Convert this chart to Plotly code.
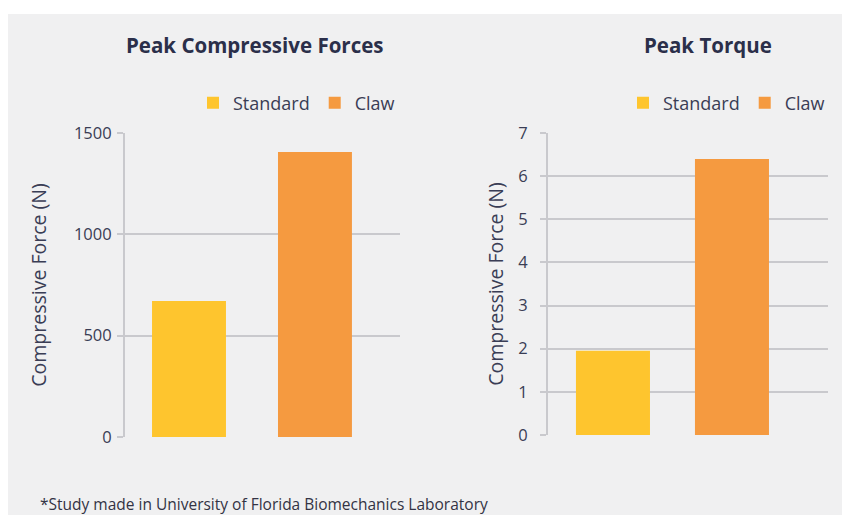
import plotly.graph_objects as go

categories = ["Standard", "Claw"]
force_values = [671, 1406]
torque_values = [1.95, 6.4]
force_ticks = [0, 500, 1000, 1500]
torque_ticks = [0, 1, 2, 3, 4, 5, 6, 7]
colors = {"Standard": "#fec52e", "Claw": "#f59a40"}

W, H = 850, 515
OX, OY = 8, 8  # page body margin offset
def px(x):
    return (x - OX) / W
def py(y):
    return 1 - (y - OY) / H

TXT = "#3a3d55"
GRID = "#c9c9cd"
FONT = "Open Sans"

fig = go.Figure()

for i, cat in enumerate(categories):
    fig.add_trace(go.Bar(
        x=[i], y=[force_values[i]], name=cat, marker_color=colors[cat],
        marker_line_width=0, width=0.587, xaxis="x", yaxis="y",
        legend="legend", showlegend=True, hoverinfo="skip"))
for i, cat in enumerate(categories):
    fig.add_trace(go.Bar(
        x=[i], y=[torque_values[i]], name=cat, marker_color=colors[cat],
        marker_line_width=0, width=0.622, xaxis="x2", yaxis="y2",
        legend="legend2", showlegend=True, hoverinfo="skip"))

def yaxis_common(standoff, title_standoff):
    return dict(
        showgrid=True, gridcolor=GRID, gridwidth=2,
        showline=True, linecolor=GRID, linewidth=2,
        ticks="outside", ticklen=6, tickcolor=GRID, tickwidth=2,
        ticklabelstandoff=standoff,
        tickfont=dict(family=FONT, size=16.5, color=TXT),
        title=dict(text="Compressive Force (N)", standoff=title_standoff,
                   font=dict(family=FONT, size=19.5, color=TXT)),
        zeroline=False, fixedrange=True,
    )
xaxis_common = dict(showticklabels=False, showgrid=False, zeroline=False,
                    showline=False, ticks="", fixedrange=True)

legend_common = dict(orientation="h", xanchor="left", yanchor="middle",
                     bgcolor="rgba(0,0,0,0)", itemwidth=30, traceorder="normal",
                     font=dict(family=FONT, size=18, color=TXT), itemclick=False)

fig.update_layout(
    width=W, height=H,
    margin=dict(l=0, r=0, t=0, b=0, autoexpand=False),
    paper_bgcolor="white",
    plot_bgcolor="rgba(0,0,0,0)",
    barmode="overlay",
    xaxis=dict(domain=[px(125), px(400)], range=[-0.508, 1.675], anchor="y", **xaxis_common),
    yaxis=dict(domain=[py(437), py(133)], range=[0, 1500], tickvals=force_ticks,
               anchor="x", **yaxis_common(2, 22)),
    xaxis2=dict(domain=[px(548), px(828)], range=[-0.546, 1.807], anchor="y2", **xaxis_common),
    yaxis2=dict(domain=[py(435), py(133)], range=[0, 7], tickvals=torque_ticks,
                anchor="x2", **yaxis_common(9, 9)),
    legend=dict(x=px(193), y=py(103), **legend_common),
    legend2=dict(x=px(623), y=py(103), **legend_common),
    shapes=[dict(type="rect", xref="paper", yref="paper", x0=0, x1=1.05, y0=-0.05, y1=py(14),
                 fillcolor="#f0f0f1", line_width=0, layer="below")],
    annotations=[
        dict(text="<b>Peak Compressive Forces</b>", x=px(255), y=py(45), xref="paper", yref="paper",
             showarrow=False, font=dict(family=FONT, size=20.5, color="#2b2f4a"), xanchor="center", yanchor="middle"),
        dict(text="<b>Peak Torque</b>", x=px(708), y=py(45), xref="paper", yref="paper",
             showarrow=False, font=dict(family=FONT, size=20.5, color="#2b2f4a"), xanchor="center", yanchor="middle"),
        dict(text="*Study made in University of Florida Biomechanics Laboratory", x=px(38), y=py(504),
             xref="paper", yref="paper", showarrow=False, xanchor="left", yanchor="middle",
             font=dict(family=FONT, size=15.5, color="#333344")),
    ],
)

fig.write_html("out.html")
